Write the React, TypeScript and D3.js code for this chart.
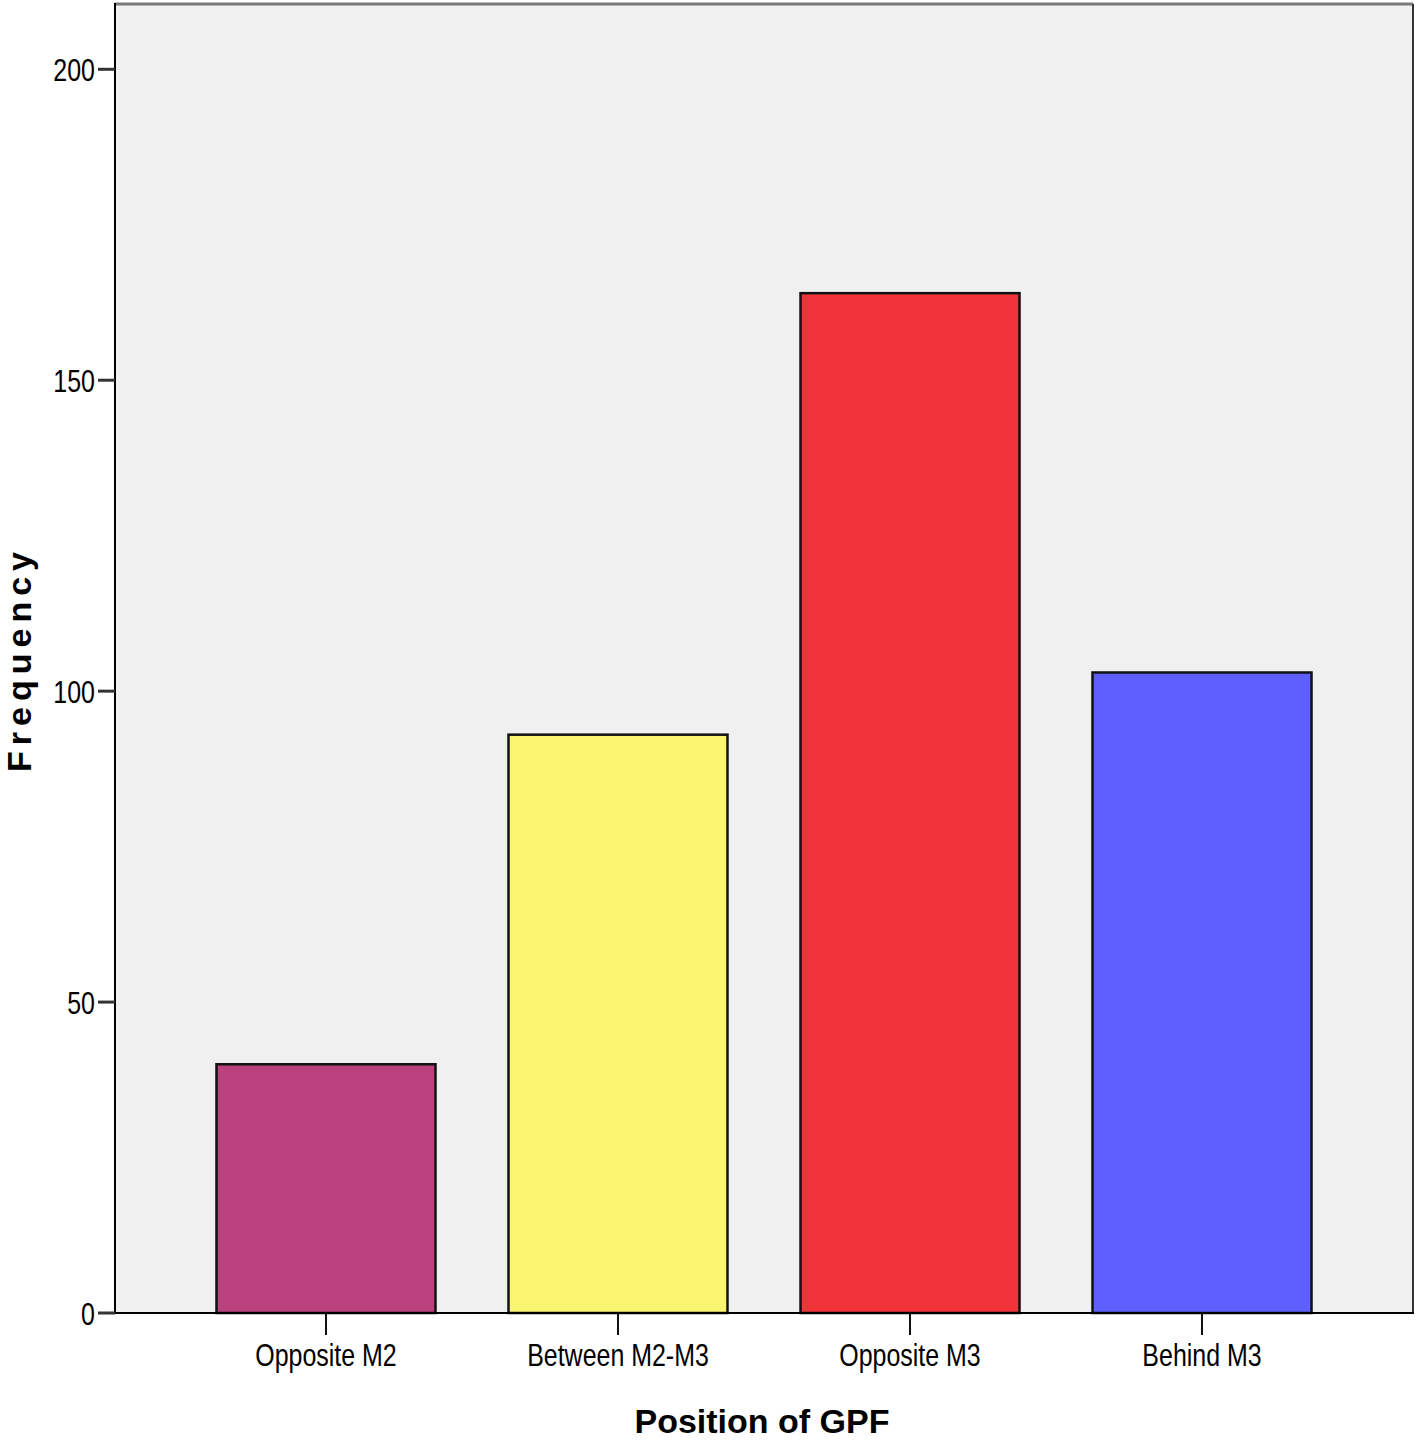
import React from "react";
import * as d3 from "d3";

const categories = ["Opposite M2", "Between M2-M3", "Opposite M3", "Behind M3"];
const frequencies = [40, 93, 164, 103];
const barColors = ["#bb407e", "#f9f571", "#f03239", "#5e60fe"];
const yTicks = [0, 50, 100, 150, 200];

const W = 1418;
const H = 1444;
const plotLeft = 115;
const plotRight = 1413;
const plotTop = 4;
const plotBottom = 1313;
const SX = 0.78;

export default function App() {
  const x = d3
    .scaleBand<string>()
    .domain(categories)
    .range([plotLeft, plotRight])
    .paddingInner(0.25)
    .paddingOuter(0.3475);
  const y = d3.scaleLinear().domain([0, 210.5]).range([plotBottom, plotTop]);
  const font = "'Liberation Sans', Arial, sans-serif";

  return (
    <svg
      width={W}
      height={H}
      style={{ position: "absolute", left: 0, top: 0, background: "#fff" }}
    >
      <rect x={plotLeft} y={plotTop} width={plotRight - plotLeft} height={plotBottom - plotTop} fill="#f0f0f0" />
      {categories.map((c, i) => (
        <rect
          key={c}
          x={x(c)}
          y={y(frequencies[i])}
          width={x.bandwidth()}
          height={y(0) - y(frequencies[i])}
          fill={barColors[i]}
          stroke="#111"
          strokeWidth={2.5}
        />
      ))}
      {/* frame */}
      <line x1={plotLeft} x2={plotRight} y1={plotTop} y2={plotTop} stroke="#7a7a7a" strokeWidth={3} />
      <line x1={plotRight} x2={plotRight} y1={plotTop} y2={plotBottom} stroke="#333" strokeWidth={2} />
      <line x1={plotLeft} x2={plotLeft} y1={plotTop - 1} y2={plotBottom + 1} stroke="#000" strokeWidth={2} />
      <line x1={plotLeft} x2={plotRight + 1} y1={plotBottom} y2={plotBottom} stroke="#000" strokeWidth={2} />
      {/* y ticks */}
      {yTicks.map((t) => (
        <g key={t}>
          <line x1={plotLeft - 17} x2={plotLeft} y1={y(t)} y2={y(t)} stroke="#333" strokeWidth={3} />
          <text
            transform={`translate(${plotLeft - 20}, ${y(t)}) scale(${SX}, 1)`}
            dy="0.37em"
            textAnchor="end"
            fontFamily={font}
            fontSize={32}
            fill="#000"
          >
            {t}
          </text>
        </g>
      ))}
      {/* x ticks */}
      {categories.map((c) => {
        const cx = (x(c) as number) + x.bandwidth() / 2;
        return (
          <g key={c}>
            <line x1={cx} x2={cx} y1={plotBottom} y2={plotBottom + 22} stroke="#111" strokeWidth={2} />
            <text
              transform={`translate(${cx}, 1366) scale(${SX}, 1)`}
              textAnchor="middle"
              fontFamily={font}
              fontSize={32}
              fill="#000"
            >
              {c}
            </text>
          </g>
        );
      })}
      <text x={762} y={1433} textAnchor="middle" fontFamily={font} fontWeight="bold" fontSize={34} fill="#000">
        Position of GPF
      </text>
      <text
        transform={`translate(31, 659) rotate(-90)`}
        textAnchor="middle"
        fontFamily={font}
        fontWeight="bold"
        fontSize={34}
        letterSpacing={6}
        fill="#000"
      >
        Frequency
      </text>
    </svg>
  );
}
